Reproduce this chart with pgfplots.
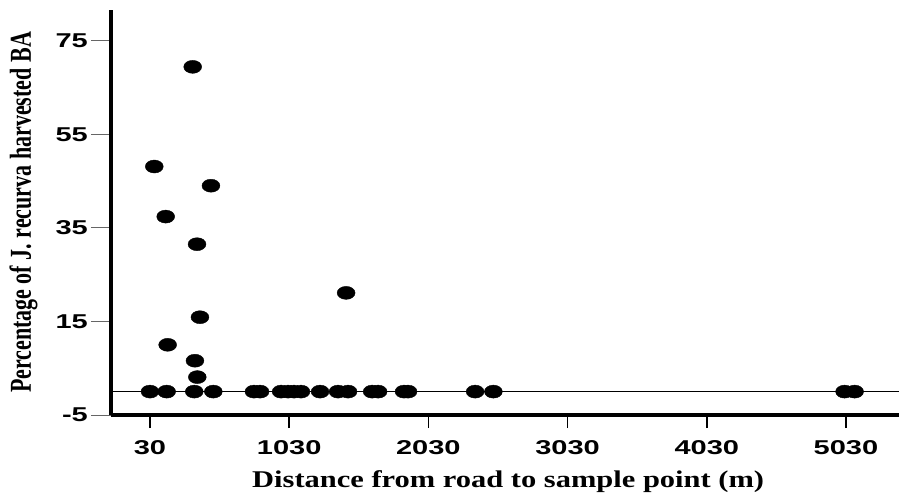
\documentclass[border=0pt]{standalone}
\usepackage{fontspec}
\setmainfont{Liberation Serif}
\setsansfont{Liberation Sans}
\usepackage{pgfplots}
\pgfplotsset{compat=1.18}
\begin{document}
\begin{tikzpicture}
\useasboundingbox (0pt,0pt) rectangle (899pt,493pt);
\begin{axis}[
  at={(111pt,78pt)}, anchor=south west,
  scale only axis, width=788pt, height=405pt,
  xmin=-250, xmax=5411, ymin=-5, ymax=81.55,
  axis x line*=bottom, axis y line*=left,
  axis line style={line width=3.5pt, black},
  clip=false,
  tick align=outside,
  major tick length=20pt,
  xtick={30,1030,2030,3030,4030,5030},
  xticklabels={30,1030,2030,3030,4030,5030},
  ytick={-5,15,35,55,75},
  yticklabels={-5,15,35,55,75},
  xtick style={black, line width=1.6pt, /pgfplots/major tick length=13pt},
  ytick style={black!60, line width=1pt},
  tick label style={font=\sffamily\bfseries\fontsize{20}{20}\selectfont, xscale=1.45},
  yticklabel style={inner sep=2pt},
  xticklabel style={inner sep=2pt, yshift=-3pt},
  xlabel={Distance from road to sample point (m)},
  xlabel style={font=\rmfamily\bfseries\fontsize{24}{24}\selectfont, xscale=1.27,
    at={(axis description cs:0.504,-0.178)}, anchor=base},
  ylabel={\scalebox{1}[1.38]{Percentage of J. recurva harvested BA}},
  ylabel style={font=\rmfamily\bfseries\fontsize{22}{22}\selectfont,
    at={(axis description cs:-0.111,0.5)}, anchor=center},
]
\addplot[black, line width=1pt, no marks] coordinates {(-250,0) (5411,0)};
\addplot[only marks, mark=*, mark size=6.5pt, mark options={xscale=1.38, fill=black, draw=black}]
coordinates {
(30,0) (150,0) (348,0) (485,0) (777,0) (821,0) (972,0) (1022,0) (1065,0) (1115,0)
(1252,0) (1381,0) (1453,0) (1626,0) (1669,0) (1855,0) (1884,0) (2366,0) (2497,0)
(5020,0) (5092,0)
(337,69.4) (61,48.1) (468,44.0) (143,37.4) (368,31.5) (1439,21.1)
(389,15.9) (157,10.0) (353,6.6) (370,3.1)
};
\end{axis}
\end{tikzpicture}
\end{document}
